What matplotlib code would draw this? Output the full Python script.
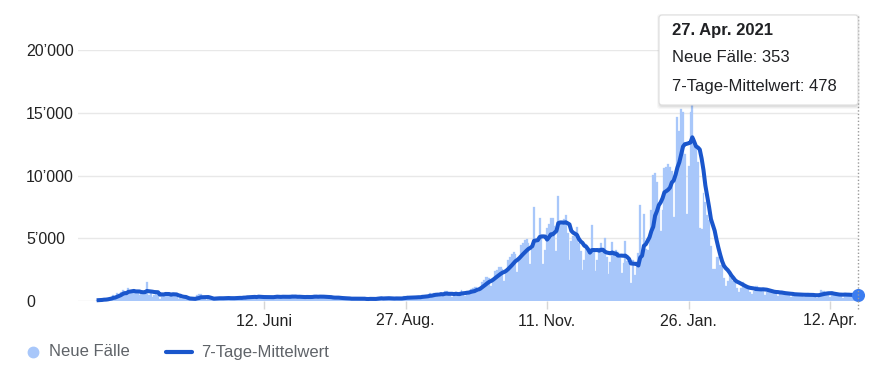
"""
Neue Fälle und 7-Tage-Mittelwert, März 2020 bis April 2021
"""
import matplotlib
matplotlib.use('Agg')
import matplotlib.pyplot as plt
import matplotlib.transforms as mtransforms
from matplotlib.patches import FancyBboxPatch
from matplotlib.lines import Line2D
import pandas as pd

# daily new cases (one list per month)
cases_2020_03 = [57, 76, 86, 117, 194, 143, 235, 260, 320, 460, 302, 633, 549, 724, 902, 792, 446, 1035]
cases_2020_04 = [808, 783, 852, 638, 754, 452, 712, 699, 815, 1516, 515, 598, 349, 514, 643,
                 750, 181, 663, 521, 657, 516, 603, 371, 444, 595, 472, 163, 295, 183, 187]
cases_2020_05 = [353, 145, 92, 69, 173, 178, 480, 533, 553, 138, 175, 98, 234, 219, 187, 264,
                 227, 226, 173, 223, 228, 252, 288, 271, 152, 165, 219, 285, 304, 350, 257]
cases_2020_06 = [297, 200, 366, 331, 377, 382, 342, 192, 421, 294, 310, 270, 360, 346, 173,
                 354, 331, 414, 421, 328, 267, 259, 345, 311, 367, 451, 457, 275, 266, 229]
cases_2020_07 = [328, 313, 374, 413, 328, 229, 232, 375, 443, 418, 342, 402, 232, 201, 312, 375,
                 339, 300, 221, 135, 194, 313, 252, 255, 204, 181, 87, 135, 192, 278, 230]
cases_2020_08 = [194, 191, 106, 125, 153, 139, 201, 278, 165, 91, 130, 290, 325, 242, 180, 210,
                 131, 181, 221, 225, 242, 232, 172, 150, 182, 367, 316, 401, 265, 229, 193]
cases_2020_09 = [232, 390, 394, 401, 460, 351, 318, 310, 646, 487, 646, 673, 470, 314, 613,
                 509, 770, 780, 552, 469, 312, 465, 691, 617, 749, 896, 585, 425, 658, 772]
cases_2020_10 = [970, 1010, 1090, 1130, 740, 1090, 1550, 1700, 1880, 1930, 1860, 1210, 1750, 2400,
                 2490, 2670, 2730, 2550, 1620, 2380, 3300, 3520, 3770, 3910, 3710, 2330, 3290,
                 4460, 4600, 4840, 4910]
cases_2020_11 = [4640, 2930, 4160, 7497, 4800, 5000, 6640, 5000, 2950, 4050, 5800, 6100, 6650,
                 6600, 5950, 3950, 8370, 6200, 6100, 6500, 6850, 5400, 3300, 4800, 5150, 5500,
                 5900, 4650, 3950, 2450]
cases_2020_12 = [3260, 4550, 4100, 4000, 6080, 4000, 2400, 3300, 4200, 4600, 4000, 5040, 3500,
                 2150, 3100, 4670, 3950, 4100, 3900, 3400, 2200, 3000, 4750, 3200, 3000, 1400,
                 3300, 2100, 3000, 3800, 7630]
cases_2021_01 = [4000, 6950, 4150, 4040, 4960, 7260, 10030, 10180, 9480, 7500, 5600, 7260, 10560,
                 10700, 10950, 10660, 10380, 6700, 10460, 14650, 13540, 15330, 15070, 11720,
                 6920, 10770, 15070, 16430, 12890, 12440, 11100]
cases_2021_02 = [5800, 5770, 8570, 7910, 6850, 6420, 4390, 2510, 2580, 3480, 3510, 2860, 2860,
                 1820, 1160, 1570, 2100, 1850, 1600, 1500, 1000, 690, 1000, 1500, 1250, 1150,
                 1050, 700]
cases_2021_03 = [530, 830, 1190, 1160, 1060, 1000, 770, 440, 690, 890, 880, 800, 710, 620, 380,
                 520, 820, 680, 650, 580, 510, 280, 440, 620, 620, 560, 520, 460, 280, 420, 620]
cases_2021_04 = [560, 540, 510, 330, 240, 460, 870, 790, 760, 710, 480, 290, 480, 620, 620, 570,
                 540, 420, 270, 560, 560, 610, 520, 470, 390, 443, 353]

start_date = '2020-03-14'
tick_dates = ['2020-06-12', '2020-08-27', '2020-11-11', '2021-01-26', '2021-04-12']
tick_labels = ['12. Juni', '27. Aug.', '11. Nov.', '26. Jan.', '12. Apr.']
y_ticks = [0, 5000, 10000, 15000, 20000]
tooltip_title = '27. Apr. 2021'

BAR_COLOR = '#a8c7fa'
LINE_COLOR = '#1a56cc'
DOT_COLOR = '#3b7cf0'
W, H = 873, 378

plt.rcParams['font.family'] = ['Liberation Sans', 'DejaVu Sans']

daily = (cases_2020_03 + cases_2020_04 + cases_2020_05 + cases_2020_06 + cases_2020_07
         + cases_2020_08 + cases_2020_09 + cases_2020_10 + cases_2020_11 + cases_2020_12
         + cases_2021_01 + cases_2021_02 + cases_2021_03 + cases_2021_04)
dates = pd.date_range(start_date, periods=len(daily), freq='D')
avg = pd.Series(daily, index=dates).rolling(7, min_periods=1).mean()

fig = plt.figure(figsize=(W / 100, H / 100), dpi=100)
ax = fig.add_axes([78 / W, 1 - 301 / H, 780 / W, 251 / H])

ax.bar(dates, daily, width=1.0, color=BAR_COLOR, edgecolor=BAR_COLOR, linewidth=0.2, zorder=2)
ax.plot(dates, avg.values, color=LINE_COLOR, lw=2.9, solid_joinstyle='round',
        solid_capstyle='butt', clip_on=False, zorder=3)
ax.plot([dates[-1]], [avg.values[-1]], 'o', ms=8.4, color=DOT_COLOR, clip_on=False, zorder=4)

ax.set_xlim(dates[-1] - pd.Timedelta(days=419), dates[-1])
ax.set_ylim(0, 20000)

ax.set_yticks(y_ticks)
ax.set_yticklabels([f'{v:,}'.replace(',', '\u2019') for v in y_ticks], ha='left')
ax.tick_params(axis='y', length=0, pad=37.4, labelsize=11.5, labelcolor='#222222')
ax.yaxis.grid(True, color='#e8e8e8', lw=1)
ax.set_axisbelow(True)

ax.set_xticks(pd.to_datetime(tick_dates))
ax.set_xticklabels(tick_labels)
ax.tick_params(axis='x', length=6, width=1, color='#d6d6d6', pad=3,
               labelsize=11.5, labelcolor='#222222')

for s in ax.spines.values():
    s.set_visible(False)

px = mtransforms.IdentityTransform()

# hover line
fig.add_artist(Line2D([858, 858], [H - 16, H - 309], transform=px, color='#9a9a9a',
                      lw=1, linestyle=(0, (1, 1.5)), zorder=5))

# tooltip
for i, a in enumerate([0.05, 0.04, 0.03]):
    fig.add_artist(FancyBboxPatch((659 - i, H - 106 - i - 1), 199 + 2 * i, 91 + 2 * i,
                                  boxstyle='round,pad=0,rounding_size=3', transform=px,
                                  facecolor='black', alpha=a, lw=0, zorder=6))
fig.add_artist(FancyBboxPatch((659, H - 105), 199, 90, boxstyle='round,pad=0,rounding_size=3',
                              transform=px, facecolor='white', edgecolor='#dddddd', lw=0.8,
                              zorder=7))
fig.text(672, H - 31, tooltip_title, transform=px, fontsize=12, fontweight='bold',
         color='#202124', va='center', zorder=8)
fig.text(672, H - 57, f'Neue Fälle: {daily[-1]}', transform=px, fontsize=12,
         color='#202124', va='center', zorder=8)
fig.text(672, H - 86, f'7-Tage-Mittelwert: {round(avg.values[-1])}', transform=px,
         fontsize=12, color='#202124', va='center', zorder=8)

# legend
fig.add_artist(Line2D([33], [H - 352], transform=px, marker='o', ms=7.5, color=BAR_COLOR, lw=0))
fig.text(49, H - 352, 'Neue Fälle', transform=px, fontsize=12, color='#5f6368', va='center')
fig.add_artist(Line2D([166, 192], [H - 352, H - 352], transform=px, color=LINE_COLOR, lw=3,
                      solid_capstyle='round'))
fig.text(201, H - 352, '7-Tage-Mittelwert', transform=px, fontsize=12, color='#5f6368',
         va='center')

fig.savefig('out.png', dpi=100)
